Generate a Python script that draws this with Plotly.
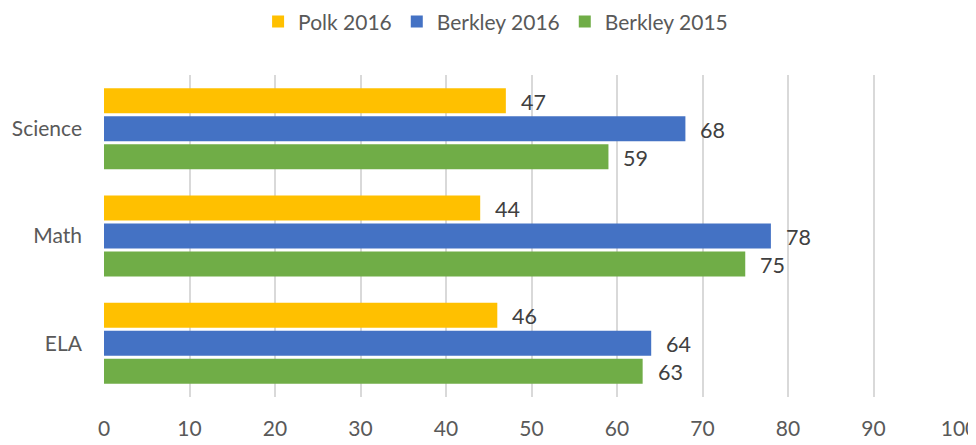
import plotly.graph_objects as go

categories = ["ELA", "Math", "Science"]
series_names = ["Berkley 2015", "Berkley 2016", "Polk 2016"]
berkley_2015 = [63, 75, 59]
berkley_2016 = [64, 78, 68]
polk_2016 = [46, 44, 47]
x_ticks = [0, 10, 20, 30, 40, 50, 60, 70, 80, 90, 100]

values = [berkley_2015, berkley_2016, polk_2016]
colors = ["#70AD47", "#4472C4", "#FFC000"]

FONT = "Lato, 'Open Sans', sans-serif"
TXT = "#595959"
bargap = 0.217

fig = go.Figure()
for name, vals, col in zip(series_names, values, colors):
    fig.add_trace(go.Bar(
        y=categories, x=vals, name=name, orientation="h",
        marker=dict(color=col, line=dict(width=0)),
        hoverinfo="x+name",
    ))

slot = (1 - bargap) / 3
offsets = [-slot, 0, slot]
annotations = []
for vals, off in zip(values, offsets):
    for i, v in enumerate(vals):
        annotations.append(dict(
            x=v, y=i + off, xref="x", yref="y", text=str(v),
            showarrow=False, xanchor="left", yanchor="middle",
            xshift=13, yshift=-1,
            font=dict(family=FONT, size=21.5, color="#404040"),
        ))

# page body has an 8px default margin; margins compensate for it
fig.update_layout(
    width=976, height=445,
    margin=dict(l=96, r=25, t=67, b=56, autoexpand=False),
    paper_bgcolor="white", plot_bgcolor="white",
    barmode="group", bargap=bargap, bargroupgap=0.107,
    font=dict(family=FONT, size=21, color=TXT),
    legend=dict(
        orientation="h", traceorder="reversed",
        x=0.458, xanchor="center", y=1.165, yanchor="middle",
        font=dict(family=FONT, size=21, color=TXT),
        itemwidth=30,
    ),
    annotations=annotations,
    xaxis=dict(
        range=[0, 100], tickvals=x_ticks, ticktext=[str(t) for t in x_ticks],
        showgrid=True, gridcolor="#D9D9D9", gridwidth=1.5,
        zeroline=False, showline=False, ticks="",
        ticklabelstandoff=17, automargin=False,
        tickfont=dict(family=FONT, size=21, color=TXT),
    ),
    yaxis=dict(
        type="category", categoryorder="array", categoryarray=categories,
        showgrid=False, zeroline=False, showline=False, ticks="",
        ticklabelstandoff=21, automargin=False,
        tickfont=dict(family=FONT, size=21, color=TXT),
    ),
)

fig.write_html("out.html")
